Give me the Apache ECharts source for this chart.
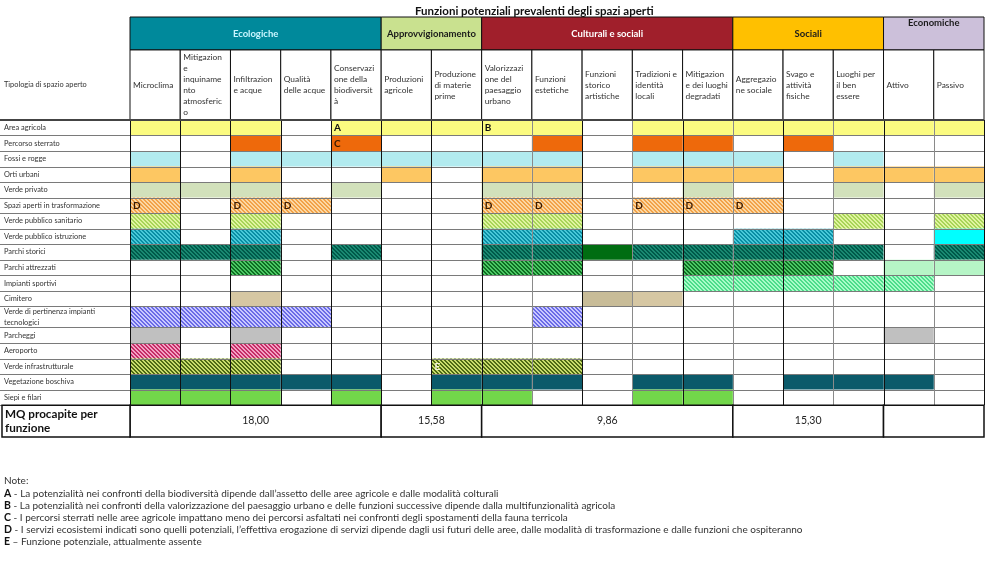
<!DOCTYPE html>
<html>
<head>
<meta charset="utf-8">
<script src="https://cdn.jsdelivr.net/npm/echarts@6/dist/echarts.min.js"></script>
<style>
html, body { margin: 0; padding: 0; background: #fff; }
#chart { width: 999px; height: 588px; }
</style>
</head>
<body>
<div id="chart"></div>
<script>
// funzioni (colonne), testo come nella tabella originale
const funzioni = [
  'Microclima',
  'Mitigazion\ne\ninquiname\nnto\natmosferic\no',
  'Infiltrazion\ne acque',
  'Qualità\ndelle acque',
  'Conservazi\none della\nbiodiversit\nà',
  'Produzioni\nagricole',
  'Produzione\ndi materie\nprime',
  'Valorizzazi\none del\npaesaggio\nurbano',
  'Funzioni\nestetiche',
  'Funzioni\nstorico\nartistiche',
  'Tradizioni e\nidentità\nlocali',
  'Mitigazion\ne dei luoghi\ndegradati',
  'Aggregazio\nne sociale',
  'Svago e\nattività\nfisiche',
  'Luoghi per\nil ben\nessere',
  'Attivo',
  'Passivo'
]
const gruppi = ['Ecologiche', 'Approvvigionamento', 'Culturali e sociali', 'Sociali', 'Economiche']
const gruppiInizio = [0, 5, 7, 12, 15]
const gruppiFine = [5, 7, 12, 15, 17]
const tipologie = [
  'Area agricola',
  'Percorso sterrato',
  'Fossi e rogge',
  'Orti urbani',
  'Verde privato',
  'Spazi aperti in trasformazione',
  'Verde pubblico sanitario',
  'Verde pubblico istruzione',
  'Parchi storici',
  'Parchi attrezzati',
  'Impianti sportivi',
  'Cimitero',
  'Verde di pertinenza impianti\ntecnologici',
  'Parcheggi',
  'Aeroporto',
  'Verde infrastrutturale',
  'Vegetazione boschiva',
  'Siepi e filari'
]
// colonne attive per ogni tipologia
const presenze = [
  [0, 1, 2, 4, 5, 6, 7, 8, 10, 11, 12, 13, 14, 15, 16],
  [2, 4, 8, 10, 11, 13],
  [0, 2, 3, 4, 5, 6, 7, 8, 10, 11, 12, 14],
  [0, 2, 5, 7, 8, 10, 11, 12, 14, 15, 16],
  [0, 1, 2, 4, 7, 8, 11, 14, 16],
  [0, 2, 3, 7, 8, 10, 11, 12],
  [0, 2, 7, 8, 14, 16],
  [0, 2, 7, 8, 12, 13, 16],
  [0, 1, 2, 4, 7, 8, 9, 10, 11, 12, 13, 14, 16],
  [2, 7, 8, 11, 12, 13, 15, 16],
  [11, 12, 13, 14, 15],
  [2, 9, 10],
  [0, 1, 2, 3, 8],
  [0, 2, 15],
  [0, 2],
  [0, 1, 2, 6, 7, 8],
  [0, 1, 2, 3, 4, 6, 7, 8, 10, 11, 13, 14, 15],
  [0, 1, 2, 4, 6, 7, 10, 11]
]
// [riga, colonna, nota]
const lettere = [
  [0, 4, 'A'], [0, 7, 'B'], [1, 4, 'C'],
  [5, 0, 'D'], [5, 2, 'D'], [5, 3, 'D'], [5, 7, 'D'], [5, 8, 'D'], [5, 10, 'D'], [5, 11, 'D'], [5, 12, 'D'],
  [15, 6, 'E']
]
const mqProcapite = ['18,00', '15,58', '9,86', '15,30', '']
const noteLettere = ['A', 'B', 'C', 'D', 'E']
const noteTesti = [
  ' - La potenzialità nei confronti della biodiversità dipende dall\u2019assetto delle aree agricole e dalle modalità colturali',
  ' - La potenzialità nei confronti della valorizzazione del paesaggio urbano e delle funzioni successive dipende dalla multifunzionalità agricola',
  ' - I percorsi sterrati nelle aree agricole impattano meno dei percorsi asfaltati nei confronti degli spostamenti della fauna terricola',
  ' - I servizi ecosistemi indicati sono quelli potenziali, l\u2019effettiva erogazione di servizi dipende dagli usi futuri delle aree, dalle modalità di trasformazione e dalle funzioni che ospiteranno',
  ' \u2013 Funzione potenziale, attualmente assente'
]

// stili
const FONT = 'Lato, "Open Sans", sans-serif'
const coloriGruppi = ['#00899b', '#c9e18f', '#a01f2b', '#ffc000', '#ccc0da']
const testoGruppi = ['#c8f6ff', '#1a1a1a', '#ffffff', '#1a1a1a', '#1a1a1a']
// [colore base, colore tratteggio]
const stileRighe = [
  ['#fbfb80'],
  ['#ee690b'],
  ['#b2ebef'],
  ['#fdc762'],
  ['#d2e1bb'],
  ['#fcd8a4', '#f2a248'],
  ['#e0f4a0', '#a8d458'],
  ['#48c8d8', '#0a8ea4'],
  ['#1a8a72', '#00594a'],
  ['#4cc864', '#0e6e22'],
  ['#a8fcc8', '#4cdc8a'],
  ['#d6c7a3'],
  ['#c8c8ff', '#6a6ae6'],
  ['#c0c0c0'],
  ['#f4a0c4', '#c42c66'],
  ['#c8dc6c', '#4e6a14'],
  ['#0b5a6a'],
  ['#72d74a']
]
const stileEccezioni = {
  '8-9': ['#006d12'],
  '7-16': ['#00ffff'],
  '9-15': ['#b6f5c6'],
  '9-16': ['#b6f5c6'],
  '11-9': ['#c8bc98']
}
const coloreLettere = { A: '#111', B: '#111', C: '#3a1a00', D: '#3a1a00', E: '#f4f4dc' }

// geometria in unità di riga
const HEAD1 = 2.12
const HEAD2 = 4.5
const TALL_ROW = 12
const TALL_H = 1.35
const MQ_H = 2.05
const LABEL_W = 2.588
const NCOL = funzioni.length

function rowTop(r) {
  return HEAD1 + HEAD2 + r + (r > TALL_ROW ? TALL_H - 1 : 0)
}
function rowH(r) {
  return r === TALL_ROW ? TALL_H : 1
}
const TABLE_END = rowTop(tipologie.length - 1) + rowH(tipologie.length - 1)
const Y_MAX = TABLE_END + MQ_H

const patternCache = {}
function striscia(base, stripe) {
  const key = base + stripe
  if (patternCache[key]) return patternCache[key]
  const c = document.createElement('canvas')
  c.width = 4
  c.height = 4
  const ctx = c.getContext('2d')
  ctx.fillStyle = base
  ctx.fillRect(0, 0, 4, 4)
  ctx.fillStyle = stripe
  for (let y = 0; y < 4; y++) {
    for (let x = 0; x < 4; x++) {
      if ((((x - y) % 4) + 4) % 4 < 2) ctx.fillRect(x, y, 1, 1)
    }
  }
  patternCache[key] = { image: c, repeat: 'repeat' }
  return patternCache[key]
}

function px(v) {
  return Math.round(v) + 0.5
}

function box(api, x0, y0, x1, y1) {
  const a = api.coord([x0, y0])
  const b = api.coord([x1, y1])
  return { x: a[0], y: a[1], width: b[0] - a[0], height: b[1] - a[1] }
}

const celle = []
presenze.forEach((cols, r) => cols.forEach(c => celle.push([c, r])))

const chart = echarts.init(document.getElementById('chart'))

const option = {
  animation: false,
  title: {
    text: 'Funzioni potenziali prevalenti degli spazi aperti',
    left: 410,
    top: 0,
    textStyle: { fontFamily: FONT, fontSize: 11.5, fontWeight: 'bold', color: '#111' }
  },
  grid: { left: 0, right: 15, top: 17, bottom: 151 },
  xAxis: { type: 'value', min: -LABEL_W, max: NCOL, show: false },
  yAxis: { type: 'value', min: 0, max: Y_MAX, inverse: true, show: false },
  graphic: [
    {
      type: 'text',
      left: 4,
      top: 476,
      style: { text: 'Note:', fontFamily: FONT, fontSize: 10, fill: '#333' }
    }
  ].concat(noteTesti.map((t, i) => ({
    type: 'text',
    left: 4,
    top: 488 + i * 12.1,
    style: {
      text: '{b|' + noteLettere[i] + '}' + t,
      fontFamily: FONT,
      fontSize: 10,
      fill: '#333',
      rich: { b: { fontWeight: 'bold', fontFamily: FONT, fontSize: 10.5, fill: '#111' } }
    }
  }))),
  series: [
    {
      // celle colorate
      type: 'custom',
      z: 1,
      data: celle,
      renderItem(params, api) {
        const c = api.value(0)
        const r = api.value(1)
        const st = stileEccezioni[r + '-' + c] || stileRighe[r]
        return {
          type: 'rect',
          shape: box(api, c, rowTop(r), c + 1, rowTop(r) + rowH(r)),
          style: { fill: st[1] ? striscia(st[0], st[1]) : st[0] }
        }
      }
    },
    {
      // etichette di riga e linee orizzontali
      type: 'custom',
      z: 2,
      data: tipologie.map((t, i) => [i]),
      renderItem(params, api) {
        const r = api.value(0)
        const left = api.coord([-LABEL_W, rowTop(r)])
        const right = api.coord([NCOL, rowTop(r) + rowH(r)])
        const mid = api.coord([-LABEL_W, rowTop(r) + rowH(r) / 2])
        return {
          type: 'group',
          children: [
            {
              type: 'line',
              shape: { x1: left[0], y1: px(right[1]), x2: right[0], y2: px(right[1]) },
              style: { stroke: '#7a7a7a', lineWidth: 1 }
            },
            {
              type: 'text',
              x: left[0] + 4,
              y: mid[1],
              style: {
                text: tipologie[r],
                fontFamily: FONT,
                fontSize: 7.4,
                lineHeight: 10.5,
                fill: '#333',
                align: 'left',
                verticalAlign: 'middle'
              }
            }
          ]
        }
      }
    },
    {
      // linee verticali della griglia
      type: 'custom',
      z: 3,
      data: Array.from({ length: NCOL + 1 }, (v, k) => [k]),
      renderItem(params, api) {
        const k = api.value(0)
        const a = api.coord([k, rowTop(0)])
        const b = api.coord([k, TABLE_END])
        const grey = k >= 8 && k % 2 === 0
        return {
          type: 'line',
          shape: { x1: px(a[0]), y1: a[1], x2: px(a[0]), y2: b[1] },
          style: { stroke: grey ? '#8a8a8a' : '#111', lineWidth: 1 }
        }
      }
    },
    {
      // intestazioni dei gruppi
      type: 'custom',
      z: 4,
      data: gruppi.map((g, i) => [i]),
      renderItem(params, api) {
        const i = api.value(0)
        const b = box(api, gruppiInizio[i], 0, gruppiFine[i], HEAD1)
        const top = i === 4
        return {
          type: 'group',
          children: [
            {
              type: 'rect',
              shape: b,
              style: { fill: coloriGruppi[i], stroke: '#111', lineWidth: 1 }
            },
            {
              type: 'text',
              x: b.x + b.width / 2,
              y: top ? b.y + 1 : b.y + b.height / 2,
              style: {
                text: gruppi[i],
                fontFamily: FONT,
                fontSize: 9.5,
                fontWeight: 'bold',
                fill: testoGruppi[i],
                align: 'center',
                verticalAlign: top ? 'top' : 'middle'
              }
            }
          ]
        }
      }
    },
    {
      // intestazioni delle funzioni
      type: 'custom',
      z: 4,
      data: funzioni.map((f, k) => [k]),
      renderItem(params, api) {
        const k = api.value(0)
        const b = box(api, k, HEAD1, k + 1, HEAD1 + HEAD2)
        return {
          type: 'group',
          children: [
            {
              type: 'rect',
              shape: b,
              style: { fill: '#fff', stroke: '#111', lineWidth: 1 }
            },
            {
              type: 'text',
              x: b.x + 3,
              y: b.y + b.height / 2,
              style: {
                text: funzioni[k],
                fontFamily: FONT,
                fontSize: 8.4,
                lineHeight: 11,
                fill: '#333',
                align: 'left',
                verticalAlign: 'middle'
              }
            }
          ]
        }
      }
    },
    {
      // titolo della colonna etichette e bordo sotto le intestazioni
      type: 'custom',
      z: 5,
      data: [[0]],
      renderItem(params, api) {
        const mid = api.coord([-LABEL_W, HEAD1 + HEAD2 / 2])
        const l = api.coord([-LABEL_W, rowTop(0)])
        const r = api.coord([NCOL, rowTop(0)])
        return {
          type: 'group',
          children: [
            {
              type: 'text',
              x: mid[0] + 4,
              y: mid[1],
              style: {
                text: 'Tipologia di spazio aperto',
                fontFamily: FONT,
                fontSize: 7.4,
                fill: '#333',
                align: 'left',
                verticalAlign: 'middle'
              }
            },
            {
              type: 'line',
              shape: { x1: l[0], y1: Math.round(l[1]), x2: r[0], y2: Math.round(l[1]) },
              style: { stroke: '#444', lineWidth: 2 }
            }
          ]
        }
      }
    },
    {
      // note nelle celle
      type: 'custom',
      z: 6,
      data: lettere.map(l => [l[1], l[0]]),
      renderItem(params, api) {
        const idx = params.dataIndex
        const c = api.value(0)
        const r = api.value(1)
        const p = api.coord([c, rowTop(r) + rowH(r) / 2])
        const t = lettere[idx][2]
        return {
          type: 'text',
          x: p[0] + 3,
          y: p[1] + 0.5,
          style: {
            text: t,
            fontFamily: FONT,
            fontSize: 10,
            fontWeight: 'bold',
            fill: coloreLettere[t],
            align: 'left',
            verticalAlign: 'middle'
          }
        }
      }
    },
    {
      // riga MQ procapite
      type: 'custom',
      z: 6,
      data: mqProcapite.map((v, i) => [i]),
      renderItem(params, api) {
        const i = api.value(0)
        const b = box(api, gruppiInizio[i], TABLE_END, gruppiFine[i], Y_MAX)
        const children = [
          {
            type: 'rect',
            shape: b,
            style: { fill: '#fff', stroke: '#111', lineWidth: 1.5 }
          },
          {
            type: 'text',
            x: b.x + b.width / 2,
            y: b.y + b.height / 2,
            style: {
              text: mqProcapite[i],
              fontFamily: FONT,
              fontSize: 10.5,
              fill: '#222',
              align: 'center',
              verticalAlign: 'middle'
            }
          }
        ]
        if (i === 0) {
          const lb = box(api, -LABEL_W, TABLE_END, 0, Y_MAX)
          lb.x += 2
          lb.width -= 2
          children.push(
            {
              type: 'rect',
              shape: lb,
              style: { fill: '#fff', stroke: '#111', lineWidth: 1.5 }
            },
            {
              type: 'text',
              x: lb.x + 3,
              y: lb.y + lb.height / 2,
              style: {
                text: 'MQ procapite per\nfunzione',
                fontFamily: FONT,
                fontSize: 11.7,
                lineHeight: 14,
                fontWeight: 'bold',
                fill: '#111',
                align: 'left',
                verticalAlign: 'middle'
              }
            }
          )
        }
        return { type: 'group', children }
      }
    }
  ]
}

option && chart.setOption(option)
</script>
</body>
</html>
